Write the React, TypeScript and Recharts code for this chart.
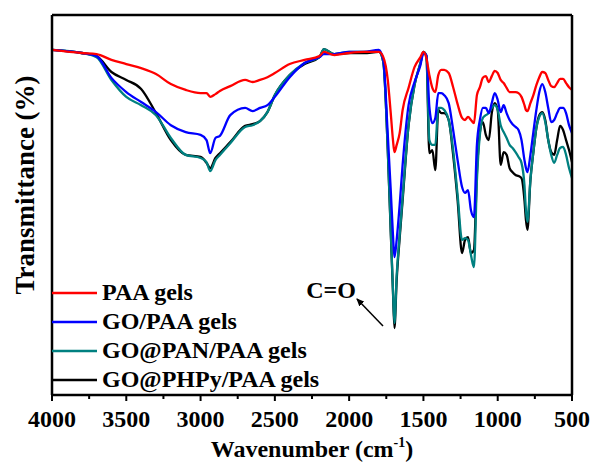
import React from 'react';
import { LineChart, Line, XAxis, YAxis, Legend } from 'recharts';

// Wavenumber grid (cm-1)
const wavenumbers = [
  4000, 3800, 3700, 3600, 3500, 3400, 3300, 3200, 3100, 3000,
  2960, 2935, 2900, 2870, 2800, 2700, 2650, 2600, 2550, 2500,
  2400, 2300, 2200, 2170, 2100, 2000, 1900, 1800, 1770, 1740,
  1720, 1705, 1695, 1680, 1660, 1640, 1600, 1560, 1520, 1500,
  1480, 1460, 1440, 1420, 1400, 1380, 1360, 1330, 1300, 1270,
  1240, 1220, 1200, 1180, 1160, 1140, 1120, 1100, 1080, 1060,
  1040, 1020, 1000, 980, 960, 940, 920, 900, 880, 860,
  840, 820, 810, 800, 780, 760, 740, 720, 700, 680,
  660, 640, 620, 600, 580, 560, 540, 520, 500,
];

// Transmittance (%)
const paaGels = [
  99.9, 99.0, 98.7, 97.0, 95.8, 94.6, 92.9, 90.0, 88.3, 87.4,
  87.4, 86.3, 87.1, 88.0, 89.4, 91.2, 90.6, 91.2, 92.0, 93.2,
  95.8, 97.0, 98.1, 99.3, 98.4, 99.0, 99.3, 99.3, 97.8, 91.2,
  81.6, 73.8, 70.3, 72.4, 75.8, 82.5, 88.9, 94.9, 97.8, 99.3,
  97.5, 92.6, 88.9, 87.7, 92.6, 94.1, 94.1, 93.2, 89.1, 84.2,
  80.2, 79.6, 80.5, 79.6, 78.7, 86.8, 89.1, 91.8, 92.3, 90.6,
  92.3, 93.8, 93.2, 91.2, 90.3, 88.9, 87.7, 87.7, 87.7, 87.4,
  86.3, 83.9, 82.5, 82.2, 84.5, 86.8, 89.7, 92.0, 93.5, 93.2,
  91.2, 89.4, 89.1, 90.3, 91.5, 91.5, 90.3, 89.1, 88.3,
];

const goPaaGels = [
  99.9, 99.0, 98.1, 91.8, 87.7, 84.8, 81.9, 78.1, 76.1, 75.3,
  73.8, 70.0, 74.4, 75.0, 81.0, 83.1, 82.2, 83.1, 83.9, 86.3,
  92.0, 96.1, 97.8, 98.7, 98.7, 99.3, 99.3, 99.9, 97.0, 75.3,
  59.3, 46.3, 39.9, 44.9, 55.0, 66.6, 83.9, 90.6, 95.5, 99.0,
  98.4, 83.4, 78.7, 80.2, 87.4, 87.4, 86.8, 84.5, 76.7, 68.0,
  60.2, 58.5, 59.3, 53.5, 51.5, 72.4, 79.6, 83.1, 83.1, 81.6,
  84.5, 87.4, 85.4, 81.9, 83.9, 81.6, 79.6, 78.4, 77.6, 76.7,
  73.8, 68.0, 65.7, 64.5, 69.5, 76.1, 82.5, 87.7, 90.0, 87.7,
  83.1, 79.0, 79.6, 81.6, 83.1, 83.1, 81.6, 78.1, 75.8,
];

const goPanPaaGels = [
  99.9, 99.0, 97.8, 91.2, 86.3, 83.9, 81.0, 74.4, 69.5, 68.6,
  67.4, 64.8, 68.0, 69.5, 72.9, 77.6, 78.1, 79.3, 81.9, 86.8,
  92.6, 96.1, 97.8, 100.1, 98.7, 99.3, 99.3, 99.6, 96.4, 70.9,
  47.8, 30.4, 20.8, 34.7, 46.3, 57.3, 78.1, 89.7, 96.1, 99.3,
  98.1, 73.8, 72.4, 72.4, 83.1, 83.1, 82.5, 79.6, 70.9, 57.9,
  44.9, 45.4, 44.9, 40.5, 37.0, 62.2, 75.3, 80.2, 81.0, 81.6,
  83.1, 83.9, 82.5, 78.1, 76.1, 74.4, 72.4, 71.5, 70.3, 68.9,
  67.2, 60.8, 53.5, 50.1, 62.2, 70.3, 77.3, 80.5, 81.6, 79.0,
  73.8, 69.5, 67.2, 69.5, 71.5, 71.8, 69.5, 65.7, 62.8,
];

const goPhpyPaaGels = [
  99.9, 99.0, 98.1, 93.5, 91.2, 88.6, 81.6, 73.8, 69.5, 68.9,
  67.2, 65.7, 68.6, 70.0, 73.2, 77.9, 78.4, 79.3, 81.9, 86.8,
  92.6, 95.8, 97.8, 100.1, 98.7, 99.0, 99.0, 99.3, 96.4, 70.9,
  47.2, 29.8, 19.4, 33.3, 45.4, 56.4, 78.1, 89.7, 96.1, 99.3,
  98.1, 70.0, 70.9, 65.1, 82.5, 81.6, 81.6, 79.6, 69.5, 56.4,
  41.1, 44.9, 45.7, 41.1, 42.0, 64.3, 76.1, 79.0, 75.3, 73.8,
  81.6, 84.5, 82.5, 66.6, 70.3, 69.5, 65.7, 64.5, 63.7, 63.4,
  62.8, 56.4, 50.7, 47.8, 62.2, 70.3, 77.3, 81.0, 81.9, 79.6,
  73.8, 70.3, 69.5, 73.8, 77.9, 76.7, 73.8, 70.9, 67.4,
];

const seriesNames = ['PAA gels', 'GO/PAA gels', 'GO@PAN/PAA gels', 'GO@PHPy/PAA gels'];
const seriesColors = ['#ff0000', '#0000ff', '#008080', '#000000'];

const xTicks = [4000, 3750, 3500, 3250, 3000, 2750, 2500, 2250, 2000, 1750, 1500, 1250, 1000, 750, 500];
const xMajorStep = 500;
const yTicks = [0, 10, 20, 30, 40, 50, 60, 70, 80, 90, 100, 110];

const FONT = '"Liberation Serif", "Times New Roman", Times, serif';

const data = wavenumbers.map((wn, i) => ({
  wn,
  paa: paaGels[i],
  goPaa: goPaaGels[i],
  goPan: goPanPaaGels[i],
  goPhpy: goPhpyPaaGels[i],
}));

function BottomTick(props: any) {
  const { x, y, payload } = props;
  const v = payload.value;
  const major = v % xMajorStep === 0;
  return (
    <g>
      <line x1={x} x2={x} y1={y} y2={y + (major ? 6 : 4)} stroke="#000" strokeWidth={2} />
      {major && (
        <text x={x} y={y + 32} textAnchor="middle" fontFamily={FONT} fontWeight="bold" fontSize={24} fill="#000">
          {v}
        </text>
      )}
    </g>
  );
}

function LegendContent(props: any) {
  const payload = props.payload || [];
  const items = seriesNames.map((n, i) => {
    const p = payload.find((q: any) => q.value === n);
    return { name: n, color: p ? p.color : seriesColors[i] };
  });
  return (
    <div style={{ fontFamily: FONT, fontWeight: 'bold', fontSize: 24, lineHeight: '29px', color: '#000' }}>
      {items.map((it) => (
        <div key={it.name} style={{ display: 'flex', alignItems: 'center', height: 29 }}>
          <svg width={45} height={4} style={{ display: 'block' }}>
            <line x1={0} x2={45} y1={2} y2={2} stroke={it.color} strokeWidth={2.5} />
          </svg>
          <span style={{ marginLeft: 5, whiteSpace: 'nowrap' }}>{it.name}</span>
        </div>
      ))}
    </div>
  );
}

export default function App() {
  return (
    <div style={{ position: 'absolute', left: 0, top: 0, width: 593, height: 466, background: '#fff' }}>
      <LineChart width={593} height={466} data={data} margin={{ top: 15, right: 0, bottom: 0, left: 52 }}>
        <XAxis
          xAxisId="bottom"
          dataKey="wn"
          type="number"
          domain={[500, 4000]}
          reversed
          ticks={xTicks}
          interval={0}
          height={71}
          tickSize={0}
          tickMargin={0}
          tickLine={false}
          axisLine={{ stroke: '#000', strokeWidth: 2.5 }}
          tick={<BottomTick />}
          label={{
            content: () => (
              <text x={312} y={457} textAnchor="middle" fontFamily={FONT} fontWeight="bold" fontSize={24} fill="#000">
                Wavenumber (cm
                <tspan dy={-10} fontSize={14}>-1</tspan>
                <tspan dy={10}>)</tspan>
              </text>
            ),
          }}
        />
        <XAxis
          xAxisId="top"
          dataKey="wn"
          orientation="top"
          type="number"
          domain={[500, 4000]}
          reversed
          ticks={xTicks}
          interval={0}
          height={15}
          mirror
          tick={false}
          tickSize={3}
          tickLine={{ stroke: '#000', strokeWidth: 1.5 }}
          axisLine={{ stroke: '#000', strokeWidth: 2.5 }}
        />
        <YAxis
          yAxisId="left"
          type="number"
          domain={[0, 110]}
          ticks={yTicks}
          interval={0}
          width={52}
          mirror
          tick={false}
          tickSize={3}
          tickLine={{ stroke: '#000', strokeWidth: 1.5 }}
          axisLine={{ stroke: '#000', strokeWidth: 2.5 }}
          label={{
            content: () => (
              <text
                transform="translate(34,185) rotate(-90)"
                textAnchor="middle"
                fontFamily={FONT}
                fontWeight="bold"
                fontSize={27}
                fill="#000"
              >
                Transmittance (%)
              </text>
            ),
          }}
        />
        <YAxis
          yAxisId="right"
          orientation="right"
          type="number"
          domain={[0, 110]}
          ticks={yTicks}
          interval={0}
          width={21}
          tick={false}
          tickSize={3}
          tickLine={{ stroke: '#000', strokeWidth: 1.5 }}
          axisLine={{ stroke: '#000', strokeWidth: 2.5 }}
        />
        <Line xAxisId="bottom" yAxisId="left" type="monotone" dataKey="goPhpy" name={seriesNames[3]} stroke={seriesColors[3]} strokeWidth={2.3} dot={false} isAnimationActive={false} />
        <Line xAxisId="bottom" yAxisId="left" type="monotone" dataKey="goPan" name={seriesNames[2]} stroke={seriesColors[2]} strokeWidth={2.3} dot={false} isAnimationActive={false} />
        <Line xAxisId="bottom" yAxisId="left" type="monotone" dataKey="goPaa" name={seriesNames[1]} stroke={seriesColors[1]} strokeWidth={2.3} dot={false} isAnimationActive={false} />
        <Line xAxisId="bottom" yAxisId="left" type="monotone" dataKey="paa" name={seriesNames[0]} stroke={seriesColors[0]} strokeWidth={2.3} dot={false} isAnimationActive={false} />
        <Legend
          layout="vertical"
          align="center"
          verticalAlign="middle"
          wrapperStyle={{ position: 'absolute', left: 52, top: 278, width: 320 }}
          content={<LegendContent />}
        />
      </LineChart>
      <svg width={593} height={466} style={{ position: 'absolute', left: 0, top: 0, pointerEvents: 'none' }}>
        <defs>
          <marker id="arrowHead" markerWidth={8} markerHeight={8} refX={7} refY={4} orient="auto" markerUnits="userSpaceOnUse">
            <path d="M0,0.5 L8,4 L0,7.5 z" fill="#000" />
          </marker>
        </defs>
        <text x={331} y={298} textAnchor="middle" fontFamily={FONT} fontWeight="bold" fontSize={24} fill="#000">
          C=O
        </text>
        <line x1={383} y1={326} x2={357} y2={299} stroke="#000" strokeWidth={1.5} markerEnd="url(#arrowHead)" />
      </svg>
    </div>
  );
}
